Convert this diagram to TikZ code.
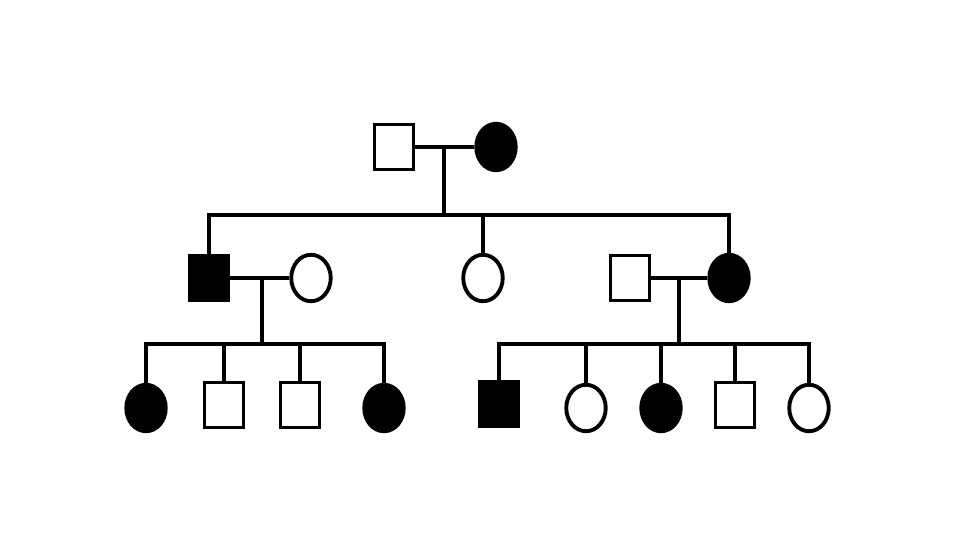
\documentclass[tikz,border=0pt]{standalone}
\usepackage{tikz}
\usetikzlibrary{shapes.geometric}
\tikzset{
  male/.style={
    draw,
    rectangle,
    minimum width=0.78cm,
    minimum height=0.90cm,
    inner sep=0pt
  },
  female/.style={
    draw,
    ellipse,
    minimum width=0.79cm,
    minimum height=0.93cm,
    inner sep=0pt
  },
  affected/.style={
    fill=black
  }
}

\begin{document}
\begin{tikzpicture}[line width=2.2pt, x=0.02cm, y=-0.02cm]
  \useasboundingbox (0,0) rectangle (960,540);

  % generation I
  \node[male] (I1) at (394,147) {};
  \node[female,affected] (I2) at (496,147) {};
  \draw (I1.east) -- (I2.west);
  \coordinate (m1) at (444,147);
  \coordinate (sib1) at (444,215);
  \draw (m1) -- (sib1);

  % generation II
  \node[male,affected] (II1) at (209,278) {};
  \node[female] (II2) at (311,278) {};
  \node[female] (II3) at (483,278) {};
  \node[male] (II4) at (630,278) {};
  \node[female,affected] (II5) at (729,278) {};
  \draw (II1.north) -- (II1.north |- sib1) -- (II5.north |- sib1) -- (II5.north);
  \draw (II3.north) -- (II3.north |- sib1);
  \draw (II1.east) -- (II2.west);
  \draw (II4.east) -- (II5.west);
  \coordinate (m2) at (262,278);
  \coordinate (sib2) at (262,344);
  \coordinate (m3) at (679,278);
  \coordinate (sib3) at (679,344);
  \draw (m2) -- (sib2);
  \draw (m3) -- (sib3);

  % generation III
  \node[female,affected] (III1) at (146,408) {};
  \node[male] (III2) at (224,405) {};
  \node[male] (III3) at (300,405) {};
  \node[female,affected] (III4) at (384,408) {};
  \node[male,affected] (III5) at (499,404) {};
  \node[female] (III6) at (586,408) {};
  \node[female,affected] (III7) at (661,408) {};
  \node[male] (III8) at (735,405) {};
  \node[female] (III9) at (809,408) {};

  \draw (III1.north) -- (III1.north |- sib2) -- (III4.north |- sib2) -- (III4.north);
  \foreach \k in {III2,III3}
    \draw (\k.north) -- (\k.north |- sib2);
  \draw (III5.north) -- (III5.north |- sib3) -- (III9.north |- sib3) -- (III9.north);
  \foreach \k in {III6,III7,III8}
    \draw (\k.north) -- (\k.north |- sib3);
\end{tikzpicture}
\end{document}
